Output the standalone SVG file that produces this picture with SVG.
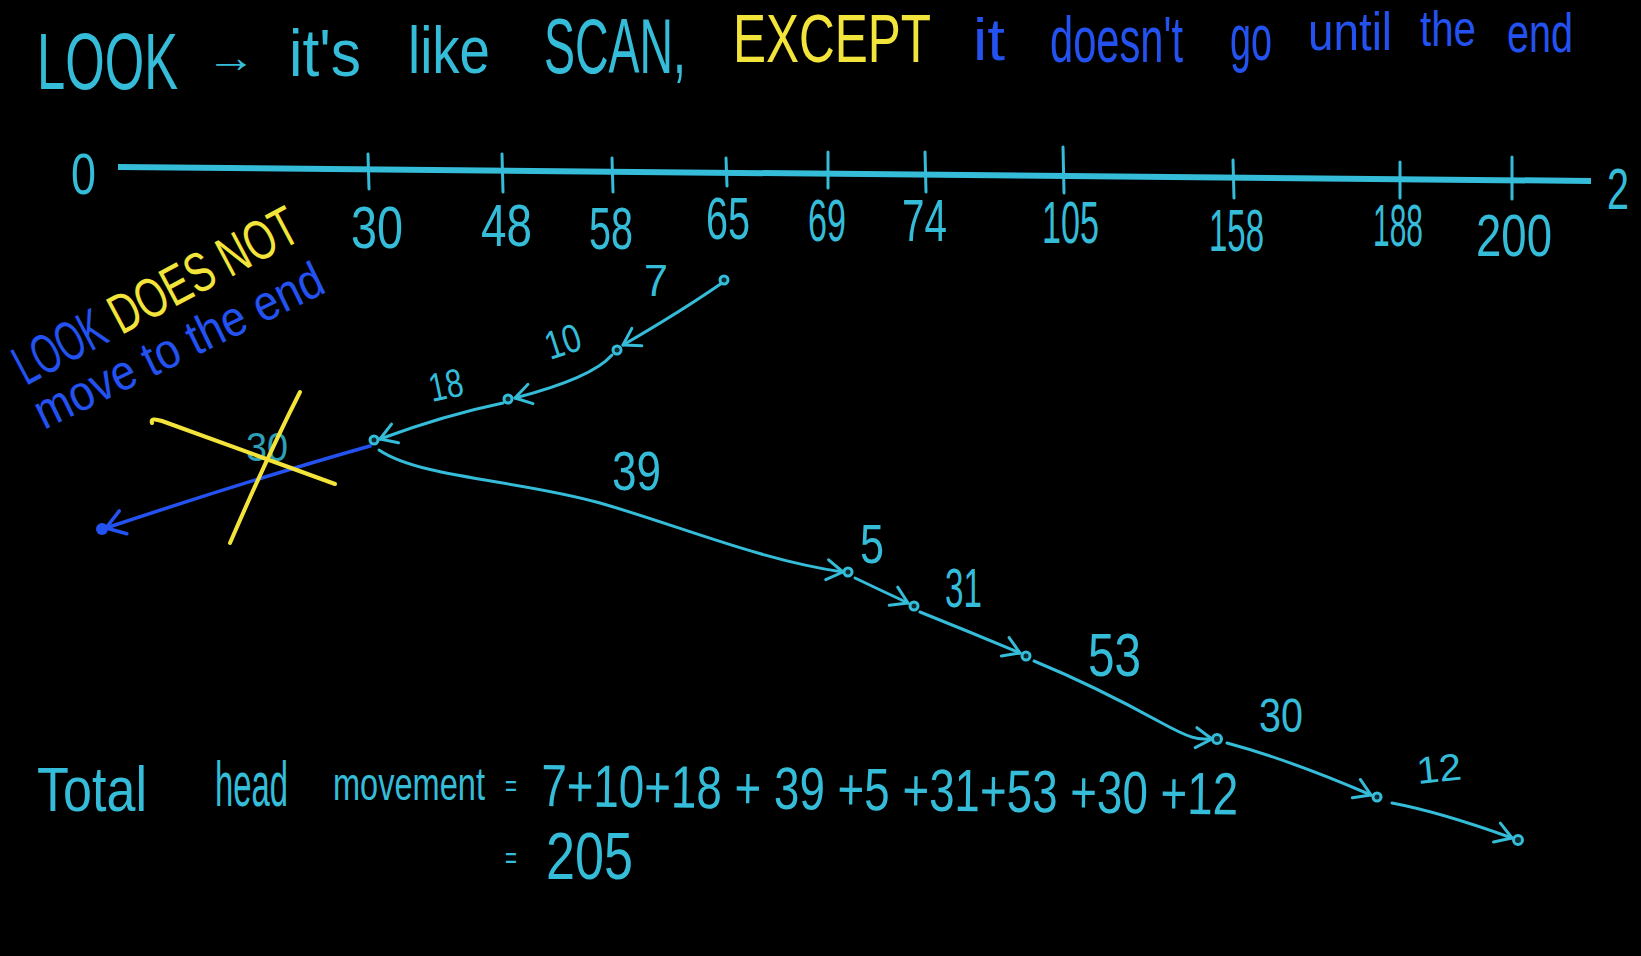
<svg xmlns="http://www.w3.org/2000/svg" width="1641" height="956" viewBox="0 0 1641 956">
<defs>
<style>
.t{font-family:"Liberation Sans",Arial,sans-serif;}
.c{fill:#35bcd8;}
.b{fill:#2352f0;}
.y{fill:#f2e43a;}
.edge{fill:none;stroke:#35bcd8;stroke-width:3;stroke-linecap:round;}
.tick{stroke:#35bcd8;stroke-width:3;stroke-linecap:round;}
.dot{fill:#0a2a30;stroke:#35bcd8;stroke-width:3;}
.lbl{font-size:60px;}
</style>
<marker id="ah" markerUnits="userSpaceOnUse" markerWidth="40" markerHeight="40" refX="0" refY="0" viewBox="-20 -20 40 40" orient="auto">
<path d="M-16,-10 L0,0 L-16,10" fill="none" stroke="#35bcd8" stroke-width="3" stroke-linecap="round" stroke-linejoin="round"/>
</marker>
<marker id="ahb" markerUnits="userSpaceOnUse" markerWidth="40" markerHeight="40" refX="0" refY="0" viewBox="-20 -20 40 40" orient="auto">
<path d="M-18,-12 L0,0 L-18,12" fill="none" stroke="#2352f0" stroke-width="3.5" stroke-linecap="round" stroke-linejoin="round"/>
</marker>
</defs>
<rect x="0" y="0" width="1641" height="956" fill="#000"/>

<g id="title" class="t">
<text class="c" transform="translate(37,89) scale(1,1.6)" font-size="50" textLength="141" lengthAdjust="spacingAndGlyphs">LOOK</text>
<text class="c" x="206" y="72" font-size="44" textLength="50" lengthAdjust="spacingAndGlyphs">→</text>
<text class="c" transform="translate(289,76) scale(1,1.1)" font-size="60" textLength="72" lengthAdjust="spacingAndGlyphs">it's</text>
<text class="c" transform="translate(408,73) scale(1,1.2)" font-size="55" textLength="82" lengthAdjust="spacingAndGlyphs">like</text>
<text class="c" transform="translate(544,73) scale(1,1.7)" font-size="46" textLength="142" lengthAdjust="spacingAndGlyphs">SCAN,</text>
<text class="y" transform="translate(733,62) scale(1,1.39)" font-size="49" textLength="198" lengthAdjust="spacingAndGlyphs">EXCEPT</text>
<text class="b" x="973" y="60" font-size="60" textLength="32" lengthAdjust="spacingAndGlyphs">it</text>
<text class="b" transform="translate(1050,62) scale(1,1.56)" font-size="41" textLength="133" lengthAdjust="spacingAndGlyphs">doesn't</text>
<text class="b" x="1230" y="60" font-size="64" textLength="42" lengthAdjust="spacingAndGlyphs">go</text>
<text class="b" x="1308" y="50" font-size="54" textLength="84" lengthAdjust="spacingAndGlyphs">until</text>
<text class="b" x="1420" y="46" font-size="50" textLength="56" lengthAdjust="spacingAndGlyphs">the</text>
<text class="b" x="1507" y="52" font-size="56" textLength="66" lengthAdjust="spacingAndGlyphs">end</text>
</g>

<g id="axis">
<line x1="118" y1="167" x2="1591" y2="181" stroke="#35bcd8" stroke-width="6" stroke-linecap="butt"/>
<line class="tick" x1="368" y1="154" x2="369" y2="189"/>
<line class="tick" x1="502" y1="154" x2="503" y2="192"/>
<line class="tick" x1="612" y1="158" x2="613" y2="192"/>
<line class="tick" x1="726" y1="158" x2="727" y2="186"/>
<line class="tick" x1="828" y1="152" x2="828" y2="188"/>
<line class="tick" x1="925" y1="152" x2="926" y2="192"/>
<line class="tick" x1="1063" y1="147" x2="1064" y2="193"/>
<line class="tick" x1="1233" y1="160" x2="1234" y2="198"/>
<line class="tick" x1="1400" y1="162" x2="1400" y2="198"/>
<line class="tick" x1="1512" y1="157" x2="1512" y2="199"/>
<g class="t c lbl">
<text x="71" y="194" font-size="58" textLength="25" lengthAdjust="spacingAndGlyphs">0</text>
<text x="1607" y="209" font-size="58" textLength="22" lengthAdjust="spacingAndGlyphs">2</text>
<text x="351" y="248" textLength="52" lengthAdjust="spacingAndGlyphs">30</text>
<text x="481" y="246" textLength="51" lengthAdjust="spacingAndGlyphs">48</text>
<text x="589" y="249" textLength="44" lengthAdjust="spacingAndGlyphs">58</text>
<text x="706" y="239" textLength="44" lengthAdjust="spacingAndGlyphs">65</text>
<text x="808" y="241" textLength="38" lengthAdjust="spacingAndGlyphs">69</text>
<text x="902" y="241" textLength="45" lengthAdjust="spacingAndGlyphs">74</text>
<text x="1042" y="243" textLength="57" lengthAdjust="spacingAndGlyphs">105</text>
<text x="1209" y="251" textLength="55" lengthAdjust="spacingAndGlyphs">158</text>
<text x="1373" y="246" textLength="50" lengthAdjust="spacingAndGlyphs">188</text>
<text x="1476" y="256" textLength="76" lengthAdjust="spacingAndGlyphs">200</text>
</g>
</g>

<g id="note" class="t">
<g transform="translate(26,386) rotate(-28)">
<text class="b" x="0" y="0" font-size="56" textLength="96" lengthAdjust="spacingAndGlyphs">LOOK</text>
<text class="y" x="108" y="0" font-size="56" textLength="206" lengthAdjust="spacingAndGlyphs">DOES NOT</text>
</g>
<g transform="translate(44,430) rotate(-26)">
<text class="b" x="0" y="0" font-size="50" textLength="316" lengthAdjust="spacingAndGlyphs">move to the end</text>
</g>
</g>

<g id="connectors">
<path class="edge" d="M722,283 Q680,312 623,345" marker-end="url(#ah)"/>
<path class="edge" d="M612,355 Q592,378 515,398" marker-end="url(#ah)"/>
<path class="edge" d="M503,403 Q445,415 380,439" marker-end="url(#ah)"/>
<path d="M370,446 Q250,480 106,528" fill="none" stroke="#2352f0" stroke-width="3.5" stroke-linecap="round" marker-end="url(#ahb)"/>
<path class="edge" d="M379,450 C420,478 520,480 600,503 S760,560 843,572" marker-end="url(#ah)"/>
<path class="edge" d="M855,578 Q880,590 908,603" marker-end="url(#ah)"/>
<path class="edge" d="M920,612 Q970,632 1020,653" marker-end="url(#ah)"/>
<path class="edge" d="M1034,661 C1080,680 1120,700 1160,722 S1200,738 1212,739" marker-end="url(#ah)"/>
<path class="edge" d="M1227,743 Q1290,760 1371,795" marker-end="url(#ah)"/>
<path class="edge" d="M1392,803 Q1440,812 1512,838" marker-end="url(#ah)"/>
</g>

<g id="nodes">
<circle id="n65" class="dot" cx="724" cy="280" r="4"/>
<circle id="n58" class="dot" cx="617" cy="350" r="4"/>
<circle id="n48" class="dot" cx="508" cy="399" r="4"/>
<circle id="n30" class="dot" cx="374" cy="440" r="4"/>
<circle id="nend" cx="102" cy="529" r="6" fill="#2352f0"/>
<circle id="n69" class="dot" cx="848" cy="572" r="4"/>
<circle id="n74" class="dot" cx="914" cy="606" r="4"/>
<circle id="n105" class="dot" cx="1026" cy="656" r="4"/>
<circle id="n158" class="dot" cx="1217" cy="739" r="4.5"/>
<circle id="n188" class="dot" cx="1377" cy="797" r="4"/>
<circle id="n200" class="dot" cx="1518" cy="840" r="4.5"/>
</g>

<g id="edge-labels" class="t c">
<text x="644" y="296" font-size="44" textLength="24" lengthAdjust="spacingAndGlyphs">7</text>
<text transform="translate(550,360) rotate(-18)" font-size="40" textLength="36" lengthAdjust="spacingAndGlyphs">10</text>
<text transform="translate(432,402) rotate(-12)" font-size="40" textLength="34" lengthAdjust="spacingAndGlyphs">18</text>
<text x="612" y="490" font-size="56" textLength="49" lengthAdjust="spacingAndGlyphs">39</text>
<text x="860" y="563" font-size="56" textLength="24" lengthAdjust="spacingAndGlyphs">5</text>
<text x="945" y="607" font-size="56" textLength="37" lengthAdjust="spacingAndGlyphs">31</text>
<text x="1088" y="676" font-size="62" textLength="53" lengthAdjust="spacingAndGlyphs">53</text>
<text x="1259" y="732" font-size="48" textLength="44" lengthAdjust="spacingAndGlyphs">30</text>
<text transform="translate(1418,784) rotate(-6)" font-size="38" textLength="45" lengthAdjust="spacingAndGlyphs">12</text>
<text x="246" y="461" font-size="40" textLength="42" lengthAdjust="spacingAndGlyphs" opacity="0.85">30</text>
</g>

<g id="cross" fill="none" stroke="#f2e43a" stroke-width="4" stroke-linecap="round">
<path d="M152,423 Q150,417 162,421 L335,484"/>
<path d="M300,392 Q268,455 230,543"/>
</g>

<g id="total" class="t c">
<text transform="translate(37,811) scale(1,1.27)" font-size="49" textLength="110" lengthAdjust="spacingAndGlyphs">Total</text>
<text transform="translate(215,806) scale(1,1.94)" font-size="32" textLength="73" lengthAdjust="spacingAndGlyphs">head</text>
<text transform="translate(333,800) scale(1,1.44)" font-size="32" textLength="152" lengthAdjust="spacingAndGlyphs">movement</text>
<text x="505" y="796" font-size="30" textLength="12" lengthAdjust="spacingAndGlyphs">=</text>
<text transform="translate(541,806) rotate(0.7) scale(1,1.33)" font-size="45" textLength="697" lengthAdjust="spacingAndGlyphs">7+10+18 + 39 +5 +31+53 +30 +12</text>
<text x="505" y="868" font-size="30" textLength="12" lengthAdjust="spacingAndGlyphs">=</text>
<text transform="translate(546,879) scale(1,1.27)" font-size="52" textLength="87" lengthAdjust="spacingAndGlyphs">205</text>
</g>
</svg>
